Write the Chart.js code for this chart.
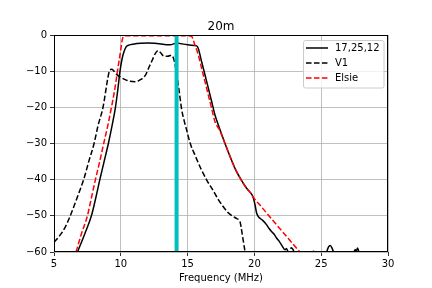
<!DOCTYPE html>
<html>
<head>
<meta charset="utf-8">
<script src="https://cdn.jsdelivr.net/npm/chart.js@4/dist/chart.umd.min.js"></script>
<style>
  body { margin: 0; background: #fff; }
  canvas { display: block; }
</style>
</head>
<body>
<canvas id="chart" width="432" height="288"></canvas>
<script>
// series names as in the legend
const seriesNames = ['17,25,12', 'V1', 'Elsie'];

// 17,25,12 (solid black)
const solidFreq = [6.76, 7.3, 7.8, 8.13, 8.43, 8.75, 9.07, 9.35, 9.6, 9.78, 9.94, 10.1, 10.25, 10.4, 10.6, 11.0, 11.5, 12.0, 12.5, 13.0, 13.4, 13.7, 14.2, 14.5, 15.0, 15.5, 15.68, 15.8, 16.05, 16.3, 16.55, 16.8, 17.05, 17.3, 17.8, 18.2, 18.6, 19.0, 19.4, 19.7, 19.9, 20.05, 20.17, 20.42, 20.6, 20.92, 21.1, 21.3, 21.5, 21.67, 21.85, 22.04, 22.3, 22.4, 22.5, 22.6, 23.5, 25.3, 25.4, 25.55, 25.68, 25.82, 25.95, 26.1, 27.3, 27.45, 27.55, 27.62, 27.72, 27.85, 28.0, 30.0];
const solidLoss = [-60, -55, -50, -45, -40, -35, -30, -25, -20, -15, -10, -6.5, -4.5, -3.3, -2.8, -2.5, -2.3, -2.2, -2.3, -2.5, -2.7, -2.7, -2.2, -2.4, -2.7, -2.9, -3.0, -3.7, -7.4, -11, -14.7, -18.4, -22.1, -24.9, -30, -33.8, -37.3, -40, -42.3, -43.6, -44.8, -47, -49.3, -50.7, -51.2, -52.5, -53.5, -54.4, -55.2, -56.2, -57, -58.1, -59.4, -59.0, -59.8, -61, -63, -62, -60.2, -58.6, -58.2, -59, -60.3, -62, -62, -60, -59.3, -59.9, -58.9, -60.3, -62, -63];

// V1 (dashed black)
const v1Freq = [5.0, 5.4, 5.8, 6.15, 6.5, 6.85, 7.22, 7.6, 8.0, 8.3, 8.67, 8.85, 9.0, 9.12, 9.3, 9.45, 9.6, 10.0, 10.37, 10.7, 11.1, 11.5, 11.86, 12.1, 12.36, 12.6, 12.8, 13.0, 13.2, 13.5, 13.8, 13.95, 14.05, 14.18, 14.35, 14.56, 14.75, 14.93, 15.2, 15.55, 16.0, 16.43, 16.9, 17.3, 17.67, 18.0, 18.42, 18.7, 18.92, 19.0, 19.12, 19.3, 19.4, 21.0, 22.6, 22.75, 22.95, 23.1, 24.3, 24.42, 24.55, 25.0];
const v1Loss = [-57.3, -55.6, -53.4, -50.6, -47.3, -43.8, -40, -35, -30, -25, -20, -16, -12.5, -10.3, -9.5, -9.8, -10.6, -11.7, -12.4, -12.8, -12.9, -12.3, -11, -9, -6.9, -5.0, -4.3, -5.0, -5.8, -5.9, -5.6, -6.5, -8, -10.6, -15, -20.7, -23.8, -26.3, -30, -33.2, -37, -40.1, -42.9, -45.5, -47.5, -49, -50.2, -50.8, -51.6, -53, -55.8, -59.9, -62, -66, -61, -58.8, -59.8, -62, -61, -59.8, -60.6, -63];

// Elsie (dashed red)
const elsieFreq = [6.65, 7.05, 7.5, 7.8, 8.1, 8.42, 8.72, 9.03, 9.3, 9.55, 9.75, 10.0, 10.1, 10.2, 10.4, 11.0, 12.0, 13.0, 14.0, 15.0, 15.3, 15.55, 15.8, 16.05, 16.3, 16.55, 16.8, 17.05, 17.4, 17.8, 18.2, 18.6, 19.0, 19.4, 19.7, 19.9, 20.5, 21.5, 22.5, 23.4, 23.7];
const elsieLoss = [-60, -55, -50, -45, -40, -35, -30, -25, -20, -15, -10, -4, -1.5, -0.4, -0.2, -0.2, -0.2, -0.2, -0.2, -0.2, -0.4, -2.8, -5.5, -9.2, -12.9, -16.6, -20.3, -24, -26.3, -30, -33.8, -37.3, -40, -42.3, -43.6, -44.8, -47.4, -51.8, -56.1, -60, -61.3];

// 20m band marker (cyan)
const markerFreq = 14.175;

const pts = (xs, ys) => xs.map((x, i) => ({ x: x, y: ys[i] }));

// matplotlib style frame + legend inside the axes
const framePlugin = {
  id: 'frame',
  afterDatasetsDraw(chart) {
    const { ctx, chartArea: a } = chart;
    ctx.save();
    ctx.strokeStyle = '#000';
    ctx.lineWidth = 1;
    ctx.strokeRect(Math.round(a.left) + 0.5, Math.round(a.top) + 0.5,
      Math.round(a.right - a.left) - 1, Math.round(a.bottom - a.top) - 1);

    // legend
    const items = chart.data.datasets.filter(d => d.label).sort((p, q) => p.legendIndex - q.legendIndex);
    const x0 = 303.5, y0 = 40.5, w = 80.5, h = 47.5;
    ctx.beginPath();
    ctx.roundRect(x0, y0, w, h, 2);
    ctx.fillStyle = 'rgba(255,255,255,0.8)';
    ctx.fill();
    ctx.strokeStyle = '#cccccc';
    ctx.lineWidth = 1;
    ctx.stroke();
    ctx.font = '10px "DejaVu Sans"';
    ctx.textBaseline = 'middle';
    ctx.fillStyle = '#000';
    items.forEach((d, i) => {
      const y = 48 + i * 15;
      ctx.beginPath();
      ctx.setLineDash(d.borderDash || []);
      ctx.strokeStyle = d.borderColor;
      ctx.lineWidth = d.borderWidth;
      ctx.moveTo(306, y);
      ctx.lineTo(328, y);
      ctx.stroke();
      ctx.setLineDash([]);
      ctx.fillText(d.label, 335, y);
    });
    ctx.restore();
  }
};

const minus = v => (v < 0 ? '\u2212' + Math.abs(v) : String(v));

Chart.defaults.font.family = '"DejaVu Sans"';
Chart.defaults.font.size = 10;
Chart.defaults.color = '#000';

new Chart(document.getElementById('chart'), {
  type: 'scatter',
  data: {
    datasets: [
      {
        data: [{ x: markerFreq, y: 0 }, { x: markerFreq, y: -60 }],
        borderColor: '#00bfbf',
        borderWidth: 4,
        order: 0
      },
      {
        label: seriesNames[2],
        legendIndex: 2,
        data: pts(elsieFreq, elsieLoss),
        borderColor: '#ff0000',
        borderWidth: 1.5,
        borderDash: [5.55, 2.4],
        order: 1
      },
      {
        label: seriesNames[1],
        legendIndex: 1,
        data: pts(v1Freq, v1Loss),
        borderColor: '#000000',
        borderWidth: 1.5,
        borderDash: [5.55, 2.4],
        order: 2
      },
      {
        label: seriesNames[0],
        legendIndex: 0,
        data: pts(solidFreq, solidLoss),
        borderColor: '#000000',
        borderWidth: 1.5,
        order: 3
      }
    ]
  },
  options: {
    responsive: false,
    animation: false,
    devicePixelRatio: 1,
    datasets: {
      scatter: {
        showLine: true,
        pointRadius: 0,
        cubicInterpolationMode: 'monotone',
        clip: 0
      }
    },
    layout: { padding: { left: 0, right: 44, top: 0, bottom: 0 } },
    plugins: {
      legend: { display: false },
      tooltip: { enabled: false },
      title: {
        display: true,
        text: '20m',
        fullSize: false,
        font: { size: 12, weight: 'normal' },
        padding: { top: 20, bottom: 0.6 }
      }
    },
    scales: {
      x: {
        type: 'linear',
        min: 5,
        max: 30,
        afterFit: s => { s.height = 36; },
        ticks: { stepSize: 5, padding: 2, maxRotation: 0 },
        grid: { color: '#b0b0b0', lineWidth: 0.8, tickLength: 4, tickColor: '#000', tickWidth: 0.8 },
        border: { display: false },
        title: { display: true, text: 'Frequency (MHz)', font: { size: 10 }, padding: { top: 0, bottom: 4 } }
      },
      y: {
        min: -60,
        max: 0,
        afterFit: s => { s.width = 54; },
        ticks: { stepSize: 10, padding: 3, callback: minus },
        grid: { color: '#b0b0b0', lineWidth: 0.8, tickLength: 4, tickColor: '#000', tickWidth: 0.8 },
        border: { display: false }
      }
    }
  },
  plugins: [framePlugin]
});
</script>
</body>
</html>
